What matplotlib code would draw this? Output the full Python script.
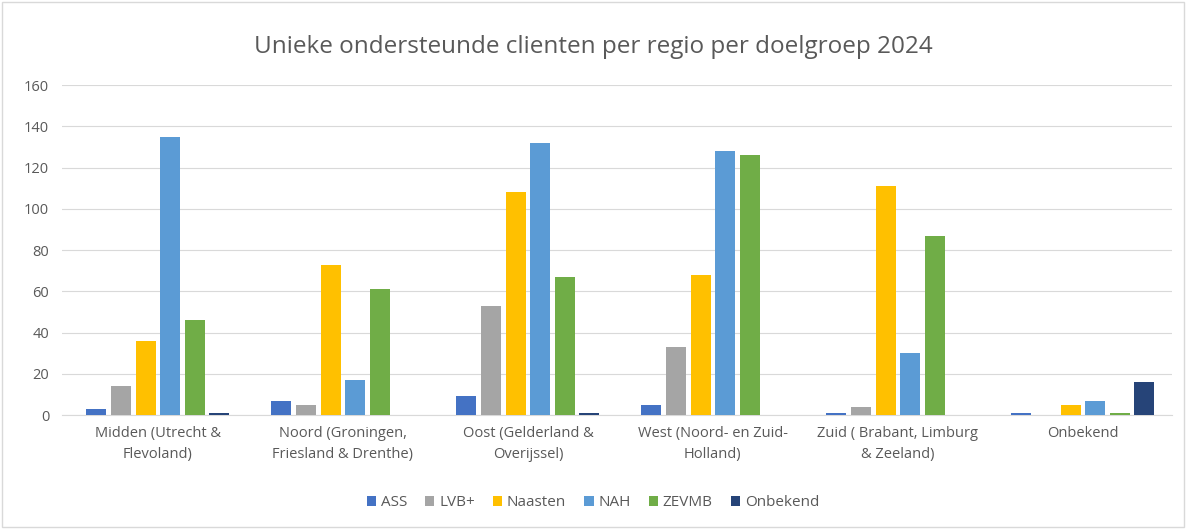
import matplotlib
matplotlib.use("Agg")
import matplotlib.pyplot as plt
import numpy as np
from matplotlib.patches import Rectangle

plt.rcParams['font.family'] = ['Open Sans', 'DejaVu Sans']

categories = ["Midden (Utrecht &\nFlevoland)", "Noord (Groningen,\nFriesland & Drenthe)",
              "Oost (Gelderland &\nOverijssel)", "West (Noord- en Zuid-\nHolland)",
              "Zuid ( Brabant, Limburg\n& Zeeland)", "Onbekend"]
series_names = ["ASS", "LVB+", "Naasten", "NAH", "ZEVMB", "Onbekend"]
ass = [3, 7, 9, 5, 1, 1]
lvb = [14, 5, 53, 33, 4, 0]
naasten = [36, 73, 108, 68, 111, 5]
nah = [135, 17, 132, 128, 30, 7]
zevmb = [46, 61, 67, 126, 87, 1]
onbekend = [1, 0, 1, 0, 0, 16]
colors = ["#4472C4", "#A5A5A5", "#FFC000", "#5B9BD5", "#70AD47", "#264478"]
yticks = [0, 20, 40, 60, 80, 100, 120, 140, 160]

data = [ass, lvb, naasten, nah, zevmb, onbekend]

fig = plt.figure(figsize=(11.86, 5.29), dpi=100)
ax = fig.add_axes([0.052, 0.2155, 0.936, 0.6235])

x = np.arange(len(categories))
step = 0.133
width = 0.108
for i, (name, vals, c) in enumerate(zip(series_names, data, colors)):
    ax.bar(x + (i - 2.5) * step, vals, width=width, color=c, label=name, zorder=3)

ax.set_ylim(0, 160)
ax.set_xlim(-0.52, 5.48)
ax.set_yticks(yticks)
ax.set_xticks(x)
ax.set_xticklabels(categories, fontsize=10.5, color="#595959", linespacing=1.5)
ax.tick_params(axis='y', labelsize=10.5, colors="#595959", length=0, pad=9)
ax.tick_params(axis='x', length=0, pad=8)
ax.grid(axis='y', color="#D9D9D9", linewidth=0.8, zorder=0)
for s in ['top', 'right', 'left']:
    ax.spines[s].set_visible(False)
ax.spines['bottom'].set_color("#D9D9D9")

fig.text(0.5, 0.912, "Unieke ondersteunde clienten per regio per doelgroep 2024",
         ha='center', va='center', fontsize=17.5, color="#595959")

handles, labels = ax.get_legend_handles_labels()
fig.legend(handles, labels, loc='center', bbox_to_anchor=(0.5, 0.05), ncol=6,
           frameon=False, fontsize=11, labelcolor="#595959", handlelength=0.6,
           handleheight=0.6, handletextpad=0.3, columnspacing=1.2)

fig.patches.append(Rectangle((0.002, 0.003), 0.996, 0.994, transform=fig.transFigure,
                             fill=False, edgecolor="#D9D9D9", linewidth=1))

fig.savefig("out.png", dpi=100, facecolor="white")
